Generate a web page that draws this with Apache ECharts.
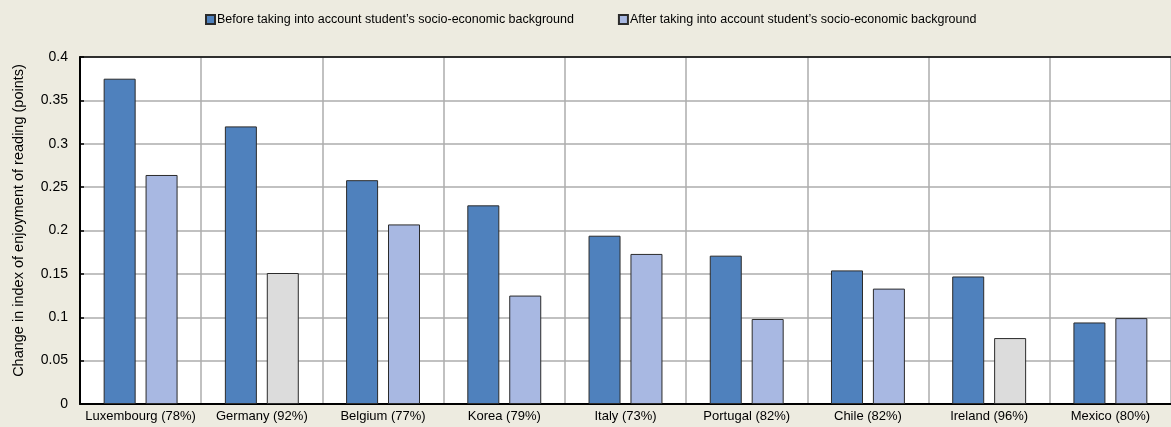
<!DOCTYPE html>
<html><head><meta charset="utf-8">
<script src="https://cdn.jsdelivr.net/npm/echarts@6/dist/echarts.min.js"></script>
<style>html,body{margin:0;padding:0;background:#EDEBE0;}#c{width:1171px;height:427px;}</style>
</head><body><div id="c"></div>
<script>
const categories = ['Luxembourg (78%)','Germany (92%)','Belgium (77%)','Korea (79%)','Italy (73%)','Portugal (82%)','Chile (82%)','Ireland (96%)','Mexico (80%)'];
const beforeValues = [0.375,0.320,0.258,0.229,0.194,0.171,0.154,0.147,0.094];
const afterValues = [0.264,0.151,0.207,0.125,0.173,0.098,0.133,0.076,0.099];
const afterSignificant = [true,false,true,true,true,true,true,false,true];
const seriesNames = ['Before taking into account student\u2019s socio-economic background','After taking into account student\u2019s socio-economic background'];
const yTicks = {min:0,max:0.4,interval:0.05};

const chart = echarts.init(document.getElementById('c'));
const font = '"Liberation Sans", Arial, sans-serif';
chart.setOption({
  backgroundColor:'#EDEBE0',
  animation:false,
  textStyle:{fontFamily:font},
  legend:{
    top:8,left:200,itemWidth:9,itemHeight:9,itemGap:44,icon:'rect',
    textStyle:{fontSize:12.5,color:'#000',fontFamily:font,padding:[0,0,0,-3]},
    data:seriesNames
  },
  grid:{left:80,right:-5,top:57,bottom:23,show:true,backgroundColor:'#fff',borderWidth:0},
  xAxis:[{
    type:'category',data:categories,
    axisLine:{lineStyle:{color:'#000',width:2}},
    axisTick:{inside:true,length:4,interval:0,lineStyle:{color:'#000',width:1.5}},
    axisLabel:{fontSize:13,color:'#000',margin:6,interval:0,fontFamily:font},
    splitLine:{show:true,interval:0,lineStyle:{color:'#ADADAD',width:1.5}}
  },{
    type:'category',data:categories,position:'top',
    axisLine:{show:true,lineStyle:{color:'#000',width:1.5}},
    axisTick:{show:false},axisLabel:{show:false},splitLine:{show:false}
  }],
  yAxis:{
    type:'value',min:yTicks.min,max:yTicks.max,interval:yTicks.interval,
    name:'Change in index of enjoyment of reading (points)',
    nameLocation:'middle',nameGap:54,
    nameTextStyle:{fontSize:14.5,color:'#000',fontFamily:font,padding:[0,0,0,20]},
    axisLine:{show:true,lineStyle:{color:'#000',width:2}},
    axisTick:{show:true,inside:true,length:4,lineStyle:{color:'#000',width:1.5}},
    axisLabel:{fontSize:14,color:'#000',margin:12,fontFamily:font,formatter:v=>String(+v.toFixed(2))},
    splitLine:{show:true,lineStyle:{color:'#ADADAD',width:1.5}}
  },
  series:[{
    name:seriesNames[0],type:'bar',data:beforeValues,
    barWidth:32,barGap:'31%',
    itemStyle:{color:'#4F81BD',borderColor:'#2b2b2b',borderWidth:1}
  },{
    name:seriesNames[1],type:'bar',
    data:afterValues.map((v,i)=>({value:v,itemStyle:{color:afterSignificant[i]?'#A8B8E2':'#DCDCDC'}})),
    barWidth:32,
    itemStyle:{color:'#A8B8E2',borderColor:'#2b2b2b',borderWidth:1}
  }]
});
</script></body></html>
